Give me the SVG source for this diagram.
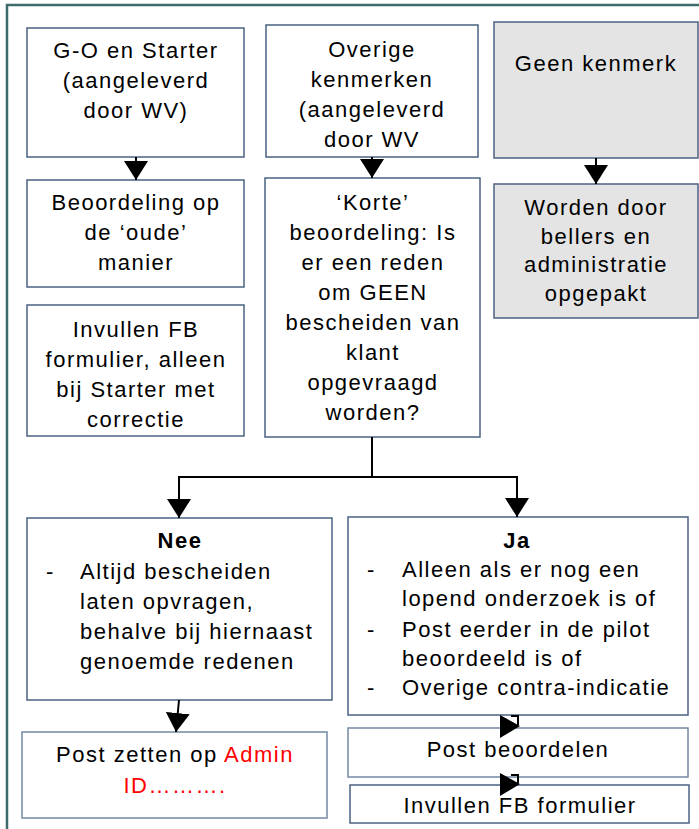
<svg xmlns="http://www.w3.org/2000/svg" width="699" height="829" viewBox="0 0 699 829">
  <style>
    .frame { fill: none; stroke: #3f6b6b; stroke-width: 2.5; }
    .box { fill: #ffffff; stroke: #4b6283; stroke-width: 1.5; }
    .box-lite { fill: #ffffff; stroke: #7389a4; stroke-width: 1.5; }
    .box-grey { fill: #e4e4e4; stroke: #4b6283; stroke-width: 1.5; }
    .t { font-family: "Liberation Sans", Arial, sans-serif; font-size: 22px; letter-spacing: 1.5px; fill: #000000; }
    .c { text-anchor: middle; }
    .b { font-weight: bold; }
    .red { fill: #ff0000; }
    .wire { fill: none; stroke: #000000; stroke-width: 2; }
    .head { fill: #000000; stroke: none; }
  </style>
  <defs>
    <marker id="arrow" markerUnits="userSpaceOnUse" markerWidth="20" markerHeight="24" refX="19" refY="12" orient="auto">
      <path d="M0,0 L19,12 L0,24 Z" class="head"/>
    </marker>
  </defs>

  <rect width="699" height="829" fill="#ffffff"/>
  <!-- outer frame, running off the right and bottom edge -->
  <rect class="frame" x="7" y="5" width="800" height="900"/>

  <!-- column 1 -->
  <g id="go-starter">
    <rect class="box" x="27" y="28" width="217" height="129"/>
    <text class="t c" x="136" y="58">G-O en Starter</text>
    <text class="t c" x="136" y="88">(aangeleverd</text>
    <text class="t c" x="136" y="118">door WV)</text>
  </g>
  <g id="oude-manier">
    <rect class="box" x="27" y="180" width="217" height="107"/>
    <text class="t c" x="136" y="210">Beoordeling op</text>
    <text class="t c" x="136" y="240">de ‘oude’</text>
    <text class="t c" x="136" y="270">manier</text>
  </g>
  <g id="fb-starter">
    <rect class="box" x="27" y="305" width="217" height="131"/>
    <text class="t c" x="136" y="337">Invullen FB</text>
    <text class="t c" x="136" y="367">formulier, alleen</text>
    <text class="t c" x="136" y="397">bij Starter met</text>
    <text class="t c" x="136" y="427">correctie</text>
  </g>

  <!-- column 2 -->
  <g id="overige">
    <rect class="box" x="266" y="25" width="212" height="132"/>
    <text class="t c" x="372" y="57">Overige</text>
    <text class="t c" x="372" y="87">kenmerken</text>
    <text class="t c" x="372" y="117">(aangeleverd</text>
    <text class="t c" x="372" y="147">door WV</text>
  </g>
  <g id="korte">
    <rect class="box" x="265" y="178" width="215" height="259"/>
    <text class="t c" x="373" y="210">‘Korte’</text>
    <text class="t c" x="373" y="240">beoordeling: Is</text>
    <text class="t c" x="373" y="270">er een reden</text>
    <text class="t c" x="373" y="300">om GEEN</text>
    <text class="t c" x="373" y="330">bescheiden van</text>
    <text class="t c" x="373" y="360">klant</text>
    <text class="t c" x="373" y="390">opgevraagd</text>
    <text class="t c" x="373" y="420">worden?</text>
  </g>

  <!-- column 3 -->
  <g id="geen-kenmerk">
    <rect class="box-grey" x="494" y="22" width="204" height="136"/>
    <text class="t c" x="596" y="71">Geen kenmerk</text>
  </g>
  <g id="bellers">
    <rect class="box-grey" x="494" y="184" width="204" height="134" fill="#e7e7e7"/>
    <text class="t c" x="596" y="215">Worden door</text>
    <text class="t c" x="596" y="244">bellers en</text>
    <text class="t c" x="596" y="272">administratie</text>
    <text class="t c" x="596" y="301">opgepakt</text>
  </g>

  <!-- outcomes -->
  <g id="nee">
    <rect class="box" x="27" y="518" width="305" height="182"/>
    <text class="t c b" x="180" y="548">Nee</text>
    <text class="t" x="46" y="579">-</text>
    <text class="t" x="80" y="579">Altijd bescheiden</text>
    <text class="t" x="80" y="609">laten opvragen,</text>
    <text class="t" x="80" y="639">behalve bij hiernaast</text>
    <text class="t" x="80" y="669">genoemde redenen</text>
  </g>
  <g id="ja">
    <rect class="box" x="348" y="517" width="340" height="198"/>
    <text class="t c b" x="517" y="548">Ja</text>
    <text class="t" x="367" y="577">-</text>
    <text class="t" x="402" y="577">Alleen als er nog een</text>
    <text class="t" x="402" y="606">lopend onderzoek is of</text>
    <text class="t" x="367" y="637">-</text>
    <text class="t" x="402" y="637">Post eerder in de pilot</text>
    <text class="t" x="402" y="666">beoordeeld is of</text>
    <text class="t" x="367" y="695">-</text>
    <text class="t" x="402" y="695">Overige contra-indicatie</text>
  </g>
  <g id="admin-id">
    <rect class="box-lite" x="22" y="732" width="305" height="86"/>
    <text class="t c" x="175" y="762">Post zetten op <tspan class="red">Admin</tspan></text>
    <text class="t c red" x="175" y="793">ID……….</text>
  </g>
  <g id="post-beoordelen">
    <rect class="box-lite" x="348" y="728" width="340" height="49"/>
    <text class="t c" x="518" y="757">Post beoordelen</text>
  </g>
  <g id="fb-formulier">
    <rect class="box" x="350" y="785" width="339" height="38"/>
    <text class="t c" x="520" y="813">Invullen FB formulier</text>
  </g>

  <!-- connectors -->
  <g id="connectors">
    <path class="wire" d="M136,157 V180" marker-end="url(#arrow)"/>
    <path class="wire" d="M372,157 V178" marker-end="url(#arrow)"/>
    <path class="wire" d="M596,158 V184" marker-end="url(#arrow)"/>
    <path class="wire" d="M372,437 V477 H179 V518" marker-end="url(#arrow)"/>
    <path class="wire" d="M372,477 H517 V517" marker-end="url(#arrow)"/>
    <path class="wire" d="M179,700 L176,732" marker-end="url(#arrow)"/>
    <!-- sideways heads between the Ja column boxes -->
    <polyline class="wire" points="511,716 518,716 518,725" stroke-width="1.5"/>
    <polygon class="head" points="500,715 520,726 500,738"/>
    <polyline class="wire" points="511,775 518,775 518,783" stroke-width="1.5"/>
    <polygon class="head" points="500,773 520,784 500,796"/>
  </g>
</svg>
